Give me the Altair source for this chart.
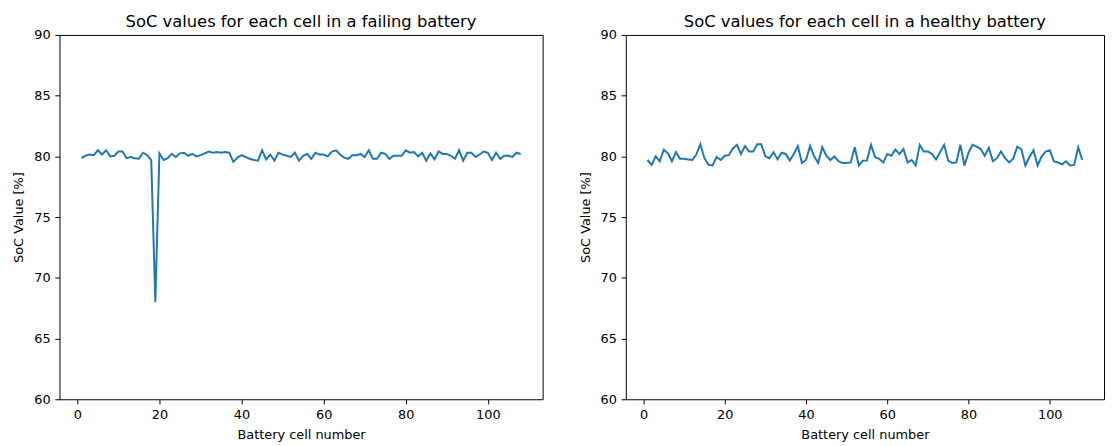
import altair as alt
import pandas as pd

cells = list(range(1, 109))

failing_soc = [
    79.85, 80.05, 80.15, 80.1, 80.5, 80.15, 80.5, 80.0, 80.05, 80.4,
    80.4, 79.85, 79.95, 79.85, 79.8, 80.3, 80.1, 79.7, 68.0, 80.25,
    79.7, 79.85, 80.2, 79.95, 80.25, 80.3, 80.05, 80.2, 80.0, 80.1,
    80.25, 80.4, 80.3, 80.35, 80.3, 80.35, 80.3, 79.55, 79.9, 80.1,
    79.95, 79.8, 79.7, 79.65, 80.5, 79.75, 80.15, 79.65, 80.3, 80.15,
    80.05, 79.95, 80.3, 79.65, 80.05, 80.2, 79.8, 80.3, 80.15, 80.15,
    80.0, 80.4, 80.5, 80.15, 79.9, 79.8, 80.1, 80.1, 80.2, 79.95,
    80.5, 79.8, 79.8, 80.3, 80.2, 79.8, 80.05, 80.05, 80.05, 80.5,
    80.3, 80.35, 80.0, 80.3, 79.65, 80.25, 79.75, 80.4, 80.2, 80.2,
    80.05, 79.8, 80.5, 79.65, 80.3, 80.3, 79.95, 80.15, 80.4, 80.3,
    79.7, 80.3, 79.8, 80.05, 80.05, 79.95, 80.3, 80.2,
]

healthy_soc = [
    79.7, 79.3, 80.0, 79.6, 80.55, 80.25, 79.6, 80.35, 79.8, 79.8,
    79.75, 79.7, 80.15, 81.0, 79.85, 79.3, 79.25, 79.95, 79.7, 80.05,
    80.1, 80.65, 80.95, 80.2, 80.85, 80.4, 80.4, 81.0, 81.0, 80.0,
    79.85, 80.35, 79.75, 80.3, 80.2, 79.65, 80.2, 80.85, 79.45, 79.7,
    80.85, 80.0, 79.45, 80.75, 80.05, 79.7, 80.0, 79.6, 79.45, 79.45,
    79.5, 80.75, 79.25, 79.65, 79.65, 80.95, 79.95, 79.8, 79.5, 80.2,
    80.05, 80.55, 80.2, 80.6, 79.5, 79.7, 79.25, 80.95, 80.4, 80.4,
    80.2, 79.75, 80.35, 80.95, 79.65, 79.45, 79.5, 80.95, 79.25, 80.3,
    80.95, 80.8, 80.6, 80.05, 80.7, 79.6, 79.85, 80.4, 79.85, 79.5,
    79.8, 80.8, 80.6, 79.25, 79.95, 80.5, 79.25, 80.0, 80.4, 80.5,
    79.6, 79.5, 79.35, 79.6, 79.25, 79.3, 80.75, 79.7,
]

x_ticks = [0, 20, 40, 60, 80, 100]
y_ticks = [60, 65, 70, 75, 80, 85, 90]
titles = [
    "SoC values for each cell in a failing battery",
    "SoC values for each cell in a healthy battery",
]

FONT = "DejaVu Sans"


def panel(values, title, width):
    df = pd.DataFrame({"cell": cells, "soc": values})
    return (
        alt.Chart(df, title=alt.Title(title))
        .mark_line(color="#1f77b4", strokeWidth=2)
        .encode(
            x=alt.X(
                "cell:Q",
                scale=alt.Scale(domain=[-4.35, 113.35], nice=False, zero=False),
                axis=alt.Axis(values=x_ticks, title="Battery cell number", labelFlush=False),
            ),
            y=alt.Y(
                "soc:Q",
                scale=alt.Scale(domain=[60, 90], nice=False, zero=False),
                axis=alt.Axis(values=y_ticks, title="SoC Value [%]"),
            ),
        )
        .properties(width=width, height=368)
    )


left = panel(failing_soc, titles[0], 488)
right = panel(healthy_soc, titles[1], 483)

chart = (
    alt.hconcat(left, right, spacing=35)
    .properties(padding={"left": 4, "top": 4, "right": 0, "bottom": 0})
    .configure_view(stroke="black", strokeWidth=1)
    .configure_axis(
        domain=False,
        grid=False,
        tickColor="black",
        tickSize=4.7,
        tickWidth=1,
        labelFont=FONT,
        labelFontSize=13,
        labelColor="black",
        labelPadding=4.7,
        titleFont=FONT,
        titleFontSize=13,
        titleFontWeight="normal",
        titleColor="black",
    )
    .configure_axisY(titlePadding=8)
    .configure_axisX(titlePadding=7)
    .configure_title(
        font=FONT, fontSize=16.5, fontWeight="normal", color="black",
        offset=-2, anchor="middle",
    )
)

chart.save("out.html", embed_options={"renderer": "svg", "actions": False})
